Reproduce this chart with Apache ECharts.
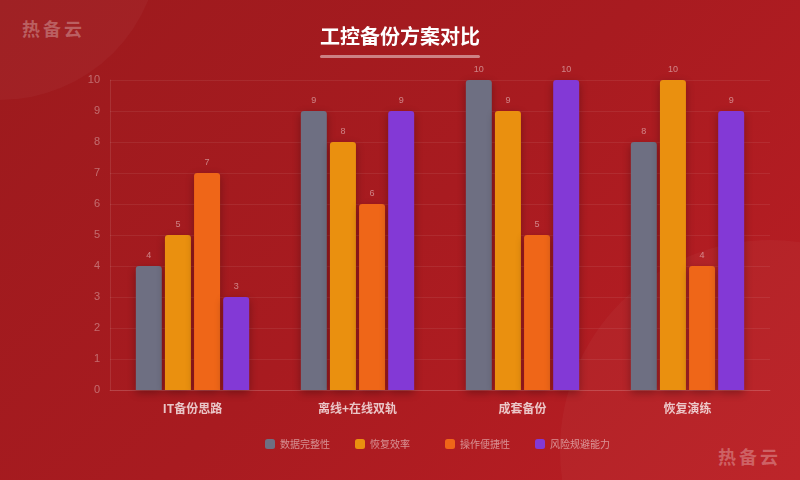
<!DOCTYPE html>
<html><head><meta charset="utf-8">
<script src="https://cdn.jsdelivr.net/npm/echarts@6/dist/echarts.min.js"></script>
<style>
html,body{margin:0;padding:0;width:800px;height:480px;overflow:hidden;}
#wrap{position:relative;width:800px;height:480px;background:linear-gradient(135deg,#9c1a1d 0%,#a81b20 50%,#bb1e24 100%);overflow:hidden;}
.circ{position:absolute;border-radius:50%;background:rgba(255,255,255,0.03);}
#chart{position:absolute;left:0;top:0;width:800px;height:480px;}
.wm{position:absolute;font-family:"Noto Sans CJK SC";font-weight:bold;font-size:18px;letter-spacing:3px;color:rgba(255,255,255,0.28);}
</style></head>
<body><div id="wrap">
<div class="circ" style="left:-160px;top:-220px;width:320px;height:320px;"></div>
<div class="circ" style="left:560px;top:240px;width:420px;height:420px;"></div>
<div class="wm" style="left:22px;top:15px;">热备云</div>
<div class="wm" style="left:718px;top:443px;">热备云</div>
<div id="chart"></div>
</div>
<script>
const categories = ["IT备份思路", "离线+在线双轨", "成套备份", "恢复演练"];
const seriesNames = ["数据完整性", "恢复效率", "操作便捷性", "风险规避能力"];
const dataIntegrity = [4, 9, 10, 8];
const recoveryEfficiency = [5, 8, 9, 10];
const easeOfUse = [7, 6, 5, 4];
const riskAvoidance = [3, 9, 10, 9];
const yTicks = [0, 10, 1];
const colors = ["#6e6f82", "#ea900f", "#ef6618", "#8339d6"];
const allData = [dataIntegrity, recoveryEfficiency, easeOfUse, riskAvoidance];

const chart = echarts.init(document.getElementById('chart'), null, {renderer:'canvas'});
chart.setOption({
  backgroundColor: 'transparent',
  animation: false,
  title: {
    text: '工控备份方案对比', left: 'center', top: 21,
    textStyle: {color:'#ffffff', fontSize:20, fontWeight:'bold', fontFamily:'Noto Sans CJK SC'}
  },
  graphic: [{type:'rect', shape:{x:320, y:55, width:160, height:3, r:1.5}, style:{fill:'rgba(255,255,255,0.45)'}}],
  legend: seriesNames.map((n,i)=>({
    data: [n], top: 439, left: 265 + 90*i, itemWidth: 10, itemHeight: 10, padding: 0,
    icon: 'roundRect',
    textStyle: {color:'rgba(255,255,255,0.5)', fontSize:10, fontFamily:'Noto Sans CJK SC'}
  })),
  grid: {left:110, right:30, top:80, bottom:90},
  xAxis: {
    type:'category', data: categories,
    axisLine:{lineStyle:{color:'rgba(255,255,255,0.12)'}},
    axisTick:{show:false},
    axisLabel:{color:'rgba(255,255,255,0.75)', fontSize:12, fontWeight:'bold', margin:12, fontFamily:'Noto Sans CJK SC'}
  },
  yAxis: {
    type:'value', min:yTicks[0], max:yTicks[1], interval:yTicks[2],
    axisLine:{show:true, lineStyle:{color:'rgba(255,255,255,0.1)'}},
    axisTick:{show:false},
    axisLabel:{color:'rgba(255,255,255,0.35)', fontSize:11, margin:10},
    splitLine:{lineStyle:{color:'rgba(255,255,255,0.07)'}}
  },
  series: seriesNames.map((n,i)=>({
    name:n, type:'bar', data: allData[i], barWidth:26, barGap:'12%',
    itemStyle:{color:colors[i], borderRadius:[3,3,0,0], shadowBlur:8, shadowColor:'rgba(0,0,0,0.3)', shadowOffsetY:3},
    label:{show:true, position:'top', distance:6, color:'rgba(255,255,255,0.45)', fontSize:9}
  }))
});
</script></body></html>
